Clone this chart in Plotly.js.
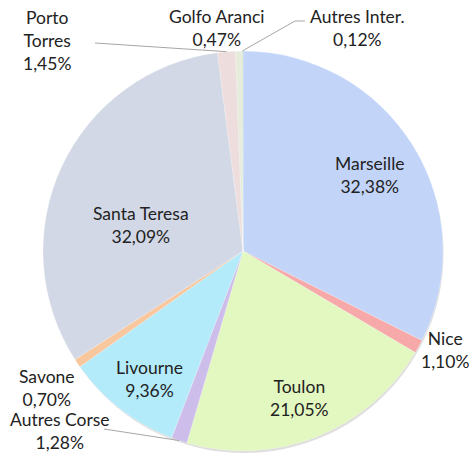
<!DOCTYPE html>
<html>
<head>
<meta charset="utf-8">
<script src="https://cdn.plot.ly/plotly-3.0.1.min.js"></script>
<style>html,body{margin:0;padding:0;background:#fff;}#chart{width:469px;height:453px;}</style>
</head>
<body>
<div id="chart"></div>
<script>
// ---- data ----
const labels = ["Marseille", "Nice", "Toulon", "Autres Corse", "Livourne", "Savone", "Santa Teresa", "Porto Torres", "Golfo Aranci", "Autres Inter."];
const values = [32.38, 1.10, 21.05, 1.28, 9.36, 0.70, 32.09, 1.45, 0.47, 0.12];
const colors = ["#c2d5f9", "#f7a8a8", "#e3f7c0", "#cdbdea", "#b4ebfb", "#f9c79e", "#d2d8e5", "#eedddd", "#e6ecdc", "#d6e6c6"];

// ---- layout (pixels) ----
const W = 469, H = 453, cx = 243, cy = 251, R = 200;
// label block centres
const labelPos = [[370, 175], [445, 350], [299, 398], [60, 431], [149, 379], [47, 388], [141, 225], [47, 40], [216, 28], [357, 28]];
// leader lines: list of label-side points (pixels), ending at the slice edge
const leaders = {3: [[104, 429]], 7: [[95, 43]], 9: [[305, 21], [295, 21]]};
const wrap = {"Porto Torres": "Porto<br>Torres"};

const total = values.reduce((a, b) => a + b, 0);
const midAngles = [];
let cum = 0;
values.forEach(v => { midAngles.push((cum + v / 2) / total * 2 * Math.PI); cum += v; });

const px = x => x / W;
const py = y => 1 - y / H;
const font = {family: "Lato, 'Open Sans', sans-serif", size: 17.5, color: "#222222"};

const annotations = labels.map((lab, i) => ({
  xref: "paper", yref: "paper",
  x: px(labelPos[i][0]), y: py(labelPos[i][1]),
  xanchor: "center", yanchor: "middle",
  text: (wrap[lab] || lab) + "<br>" + values[i].toFixed(2).replace(".", ",") + "%",
  showarrow: false, font: font, align: "center"
}));

const shapes = [];
Object.keys(leaders).forEach(k => {
  const i = +k;
  const a = midAngles[i];
  const edge = [cx + R * Math.sin(a), cy - R * Math.cos(a)];
  const pts = leaders[k].concat([edge]);
  let d = "M " + pts.map(p => px(p[0]) + "," + py(p[1])).join(" L ");
  shapes.push({type: "path", xref: "paper", yref: "paper", path: d, line: {color: "#a6a6a6", width: 1}});
});

const dom = {x: [(cx - R) / W, (cx + R) / W], y: [(H - cy - R) / H, (H - cy + R) / H]};
const shadowDom = {x: [(cx - R + 1) / W, (cx + R + 1) / W], y: [(H - cy - R - 3) / H, (H - cy + R - 3) / H]};

Plotly.newPlot("chart", [{
  type: "pie", values: [1], labels: ["shadow"], sort: false,
  marker: {colors: ["rgba(0,0,0,0.13)"], line: {width: 0}},
  textinfo: "none", hoverinfo: "none", showlegend: false, domain: shadowDom
}, {
  type: "pie",
  labels: labels,
  values: values,
  sort: false,
  direction: "clockwise",
  rotation: 0,
  marker: {colors: colors, line: {color: "rgba(255,255,255,0.5)", width: 0.5}},
  textinfo: "none",
  hoverinfo: "none",
  automargin: false,
  showlegend: false,
  domain: dom
}], {
  width: W, height: H,
  margin: {l: 0, r: 0, t: 0, b: 0},
  paper_bgcolor: "#ffffff",
  separators: ", ",
  showlegend: false,
  annotations: annotations,
  shapes: shapes
}, {displayModeBar: false, staticPlot: true});
</script>
</body>
</html>
